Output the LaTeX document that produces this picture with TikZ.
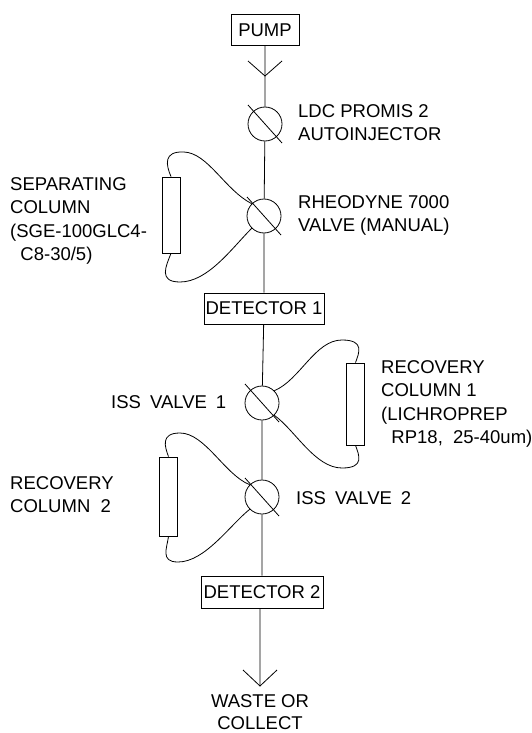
\documentclass[tikz,border=0pt]{standalone}
\usepackage{fontspec}
\setmainfont{Liberation Sans}
\begin{document}
\begin{tikzpicture}[x=1pt,y=-1pt,
  lbl/.style={font=\fontsize{18.5}{23.5}\selectfont,align=left,inner sep=0pt,anchor=north west},
  box/.style={draw,line width=0.8pt,inner sep=0pt,font=\fontsize{18.5}{20}\selectfont},
  col/.style={draw,line width=0.8pt,minimum width=18pt,inner sep=0pt},
  valve/.style={draw,circle,line width=0.8pt,minimum size=34pt,inner sep=0pt},
  pipe/.style={line width=0.8pt}]
\useasboundingbox (0,0) rectangle (531,733);
\node[box,minimum width=68pt,minimum height=31pt] (pump) at (265,30) {PUMP};
\node[valve] (v1) at (265,124) {};
\node[valve] (v2) at (264,216) {};
\node[box,minimum width=120pt,minimum height=31pt] (d1) at (264,308.5) {DETECTOR 1};
\node[valve] (v3) at (262,403) {};
\node[valve] (v4) at (262,497) {};
\node[box,minimum width=122pt,minimum height=32pt] (d2) at (262,592) {DETECTOR 2};
\node[col,minimum height=76pt] (c1) at (171,215) {};
\node[col,minimum height=82pt] (c2) at (355.5,404) {};
\node[col,minimum height=79pt] (c3) at (168.5,496.5) {};
\coordinate (a1) at (265,76);
\coordinate (a1l) at (248,61);
\coordinate (a1r) at (282,61);
\coordinate (end) at (260,686);
\coordinate (a2l) at (243,670);
\coordinate (a2r) at (277,670);
\draw[pipe] (pump) -- (v1) (v1) -- (v2) (v2) -- (d1) (d1) -- (v3) (v3) -- (v4) (v4) -- (d2) (d2.south -| end) -- (end);
\draw[pipe] (a1l) -- (a1) -- (a1r) (a2l) -- (end) -- (a2r);
\foreach \v in {v1,v2,v3,v4}
  \draw[pipe] ([shift={(-17,-19)}]\v.center) -- ([shift={(17,19)}]\v.center);
% separating column loop
\draw[pipe] (c1.north) .. controls (166,165) and (163,151) .. (184,152)
  .. controls (208,153) and (225,190) .. (v2.north west);
\draw[pipe] (c1.south) .. controls (166,266) and (158,282) .. (180,282)
  .. controls (208,282) and (232,248) .. (v2.south west);
% recovery column 1
\draw[pipe] (c2.north) .. controls (359,353) and (365,340) .. (342,340)
  .. controls (315,340) and (300,380) .. (v3.north east);
\draw[pipe] (c2.south) .. controls (359,455) and (365,468) .. (342,468)
  .. controls (315,468) and (295,430) .. (v3.south east);
% recovery column 2
\draw[pipe] (c3.north) .. controls (165,447) and (160,433) .. (180,433)
  .. controls (205,433) and (225,475) .. (v4.north west);
\draw[pipe] (c3.south) .. controls (167,548) and (160,562) .. (178,562)
  .. controls (205,562) and (230,525) .. (v4.south west);
\node[lbl] (t1) at (298,104) {LDC PROMIS 2\\AUTOINJECTOR};
\node[lbl] (t2) at (298,195) {RHEODYNE 7000\\VALVE (MANUAL)};
\node[lbl] (t3) at (10,177) {SEPARATING\\COLUMN\\(SGE-100GLC4-\\\ \ C8-30/5)};
\node[lbl] (t4) at (381,360) {RECOVERY\\COLUMN 1\\(LICHROPREP\\\ \ RP18,\ \ 25-40um)};
\node[lbl] (t5) at (111,395) {ISS\hspace{9pt}VALVE\hspace{9pt}1};
\node[lbl] (t6) at (296,491) {ISS\hspace{9pt}VALVE\hspace{9pt}2};
\node[lbl] (t7) at (10,476) {RECOVERY\\COLUMN\ \ 2};
\node[lbl,align=center,anchor=north,font=\fontsize{18.5}{22}\selectfont] (t8) at (260,694) {WASTE OR\\COLLECT};
\end{tikzpicture}
\end{document}
